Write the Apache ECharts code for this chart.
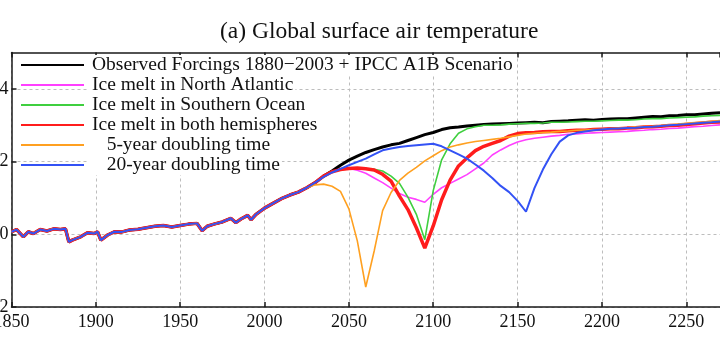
<!DOCTYPE html>
<html>
<head>
<meta charset="utf-8">
<script src="https://cdn.jsdelivr.net/npm/echarts@6/dist/echarts.min.js"></script>
<style>html,body{margin:0;padding:0;background:#fff}#c{width:720px;height:340px}</style>
</head>
<body>
<div id="c"></div>
<script>
const titleText = '(a) Global surface air temperature';
const seriesNames = [
  'Observed Forcings 1880\u22122003 + IPCC A1B Scenario',
  'Ice melt in North Atlantic',
  'Ice melt in Southern Ocean',
  'Ice melt in both hemispheres',
  '   5-year doubling time',
  '   20-year doubling time'
];
const xTicks = [1850, 1900, 1950, 2000, 2050, 2100, 2150, 2200, 2250];
const yTickLabels = [-2, 0, 2, 4];

// shared historical part
const histYears = [1850,1853,1857,1860,1863,1867,1871,1875,1879,1882,1884,1886,1891,1895,1899,1901,1903,1907,1911,1915,1920,1925,1930,1935,1940,1945,1950,1955,1960,1963,1966,1970,1975,1980,1983,1986,1990,1992,1995,2000,2005,2010,2015,2020,2025];
const histValues = [0.07,0.13,-0.07,0.07,0.02,0.13,0.09,0.15,0.13,0.15,-0.21,-0.16,-0.07,0.04,0.02,0.07,-0.16,-0.02,0.07,0.06,0.12,0.14,0.18,0.22,0.24,0.20,0.24,0.28,0.30,0.10,0.22,0.28,0.34,0.44,0.32,0.42,0.52,0.40,0.55,0.72,0.85,0.98,1.08,1.16,1.28];

// scenario years
const scenYears = [2030,2035,2040,2045,2050,2055,2060,2065,2070,2075,2080,2085,2090,2095,2100,2105,2110,2115,2120,2125,2130,2135,2140,2145,2150,2155,2160,2165,2170,2175,2180,2185,2190,2195,2200,2205,2210,2215,2220,2225,2230,2235,2240,2245,2250,2255,2260,2265,2270];

const observed = [1.42,1.60,1.74,1.90,2.04,2.15,2.25,2.33,2.40,2.46,2.50,2.58,2.66,2.74,2.80,2.88,2.93,2.95,2.98,3.00,3.02,3.03,3.04,3.05,3.06,3.07,3.08,3.07,3.10,3.11,3.12,3.14,3.15,3.14,3.16,3.17,3.18,3.18,3.20,3.22,3.24,3.23,3.26,3.27,3.29,3.29,3.31,3.33,3.34];
const northAtlantic = [1.42,1.60,1.72,1.79,1.81,1.76,1.68,1.55,1.42,1.27,1.12,1.02,0.96,0.88,1.10,1.28,1.40,1.52,1.64,1.80,1.96,2.18,2.32,2.44,2.54,2.60,2.64,2.67,2.70,2.72,2.75,2.76,2.78,2.79,2.80,2.81,2.82,2.83,2.85,2.86,2.88,2.89,2.91,2.92,2.94,2.96,2.97,2.99,3.01];
const southernOcean = [1.42,1.60,1.72,1.78,1.81,1.82,1.80,1.79,1.74,1.60,1.40,1.02,0.55,-0.15,1.20,2.05,2.49,2.78,2.90,2.96,3.00,3.00,3.01,3.03,3.04,3.05,3.05,3.06,3.08,3.08,3.09,3.10,3.11,3.11,3.12,3.13,3.14,3.14,3.15,3.17,3.18,3.18,3.20,3.21,3.22,3.23,3.25,3.26,3.27];
const bothHemispheres = [1.42,1.60,1.72,1.78,1.81,1.82,1.80,1.77,1.65,1.46,1.05,0.68,0.18,-0.38,0.23,0.95,1.49,1.88,2.10,2.30,2.42,2.50,2.58,2.70,2.77,2.79,2.80,2.82,2.83,2.83,2.85,2.86,2.86,2.88,2.89,2.90,2.90,2.92,2.93,2.95,2.96,2.97,2.99,3.00,3.02,3.04,3.06,3.08,3.09];
const doubling5 = [1.36,1.38,1.32,1.18,0.70,-0.18,-1.45,-0.46,0.65,1.15,1.48,1.68,1.84,2.02,2.16,2.30,2.40,2.46,2.51,2.55,2.58,2.61,2.64,2.68,2.72,2.76,2.78,2.80,2.81,2.83,2.84,2.86,2.87,2.88,2.89,2.91,2.92,2.93,2.95,2.96,2.97,2.99,3.01,3.03,3.05,3.07,3.09,3.11,3.13];
const doubling20 = [1.42,1.58,1.70,1.80,1.90,1.99,2.08,2.20,2.31,2.36,2.40,2.43,2.45,2.47,2.49,2.42,2.31,2.20,2.08,1.92,1.75,1.55,1.33,1.16,0.92,0.62,1.27,1.78,2.20,2.55,2.72,2.79,2.83,2.86,2.88,2.90,2.91,2.92,2.93,2.95,2.96,2.98,3.00,3.01,3.03,3.05,3.07,3.08,3.10];

const colors = ['#000000', '#ff40ff', '#3fcf3f', '#ff1c1c', '#ffa020', '#3352f5'];
const widths = [3, 1.6, 1.6, 3.5, 1.6, 2];
const scenarios = [observed, northAtlantic, southernOcean, bothHemispheres, doubling5, doubling20];

function build(vals) {
  const d = histYears.map((y, i) => [y, histValues[i]]);
  return d.concat(scenYears.map((y, i) => [y, vals[i]]));
}

const font = 'Liberation Serif, Times New Roman, serif';
const axisLineStyle = {color: '#1a1a1a', width: 1.5};
const gridStyle = {color: '#bdbdbd', width: 1, type: [3, 3]};

const chart = echarts.init(document.getElementById('c'), null, {renderer: 'canvas'});
chart.setOption({
  animation: false,
  backgroundColor: '#ffffff',
  title: {
    text: titleText, left: 220, top: 20, padding: 0,
    textStyle: {fontFamily: font, fontSize: 23.5, fontWeight: 'normal', color: '#111'}
  },
  legend: {
    orient: 'vertical', left: 20, top: 55, padding: 0, itemGap: 0,
    itemWidth: 63, itemHeight: 4,
    data: seriesNames,
    itemStyle: {color: 'transparent', borderColor: 'transparent', borderWidth: 0},
    textStyle: {fontFamily: font, fontSize: 19.5, lineHeight: 20, color: '#111',
      backgroundColor: '#ffffff', padding: [0, 2, 0, 3]}
  },
  grid: {left: 11.5, right: 0, top: 52.5, bottom: 33, containLabel: false, outerBoundsMode: 'none'},
  xAxis: [{
    type: 'value', position: 'bottom', min: xTicks[0], max: 2270, interval: 50,
    axisLine: {show: true, onZero: false, lineStyle: axisLineStyle},
    axisTick: {show: true, inside: true, length: 5, lineStyle: axisLineStyle},
    axisLabel: {fontFamily: font, fontSize: 18, color: '#111', margin: 6, showMaxLabel: false,
      formatter: v => String(v)},
    splitLine: {show: true, lineStyle: gridStyle}
  }, {
    type: 'value', position: 'top', min: xTicks[0], max: 2270, interval: 50,
    axisLine: {show: true, onZero: false, lineStyle: axisLineStyle},
    axisTick: {show: true, inside: true, length: 5, lineStyle: axisLineStyle},
    axisLabel: {show: false}, splitLine: {show: false}
  }],
  yAxis: {
    type: 'value', min: -2, max: 5, interval: 1,
    axisLine: {show: true, lineStyle: axisLineStyle},
    axisTick: {show: true, inside: true, length: 5, lineStyle: axisLineStyle, customValues: yTickLabels},
    axisLabel: {fontFamily: font, fontSize: 18, color: '#111', margin: 3,
      formatter: v => (yTickLabels.indexOf(v) >= 0 ? String(v) : '')},
    splitLine: {show: true, lineStyle: gridStyle}
  },
  series: seriesNames.map((n, i) => ({
    name: n, type: 'line', xAxisIndex: 0, data: build(scenarios[i]),
    symbol: 'none', showSymbol: false, smooth: false,
    lineStyle: {color: colors[i], width: widths[i]}, itemStyle: {color: colors[i]},
    emphasis: {disabled: true}, z: 2 + i
  }))
});
</script>
</body>
</html>
